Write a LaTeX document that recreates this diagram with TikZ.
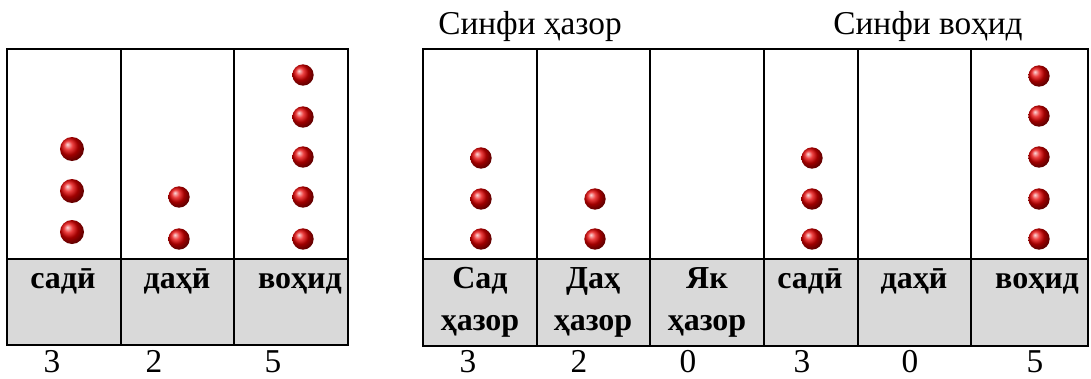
\documentclass[tikz,border=0pt]{standalone}
\usepackage{fontspec}
\setmainfont{Liberation Serif}
\usetikzlibrary{positioning}
\definecolor{cellgray}{HTML}{D9D9D9}

\begin{document}
\begin{tikzpicture}[
x=0.75pt, y=-0.75pt,
grid/.style={draw=black, line width=1.1pt},
lbl/.style={font=\fontsize{24}{31.5}\selectfont\bfseries, align=center, anchor=base, inner sep=0pt},
num/.style={font=\fontsize{25}{28}\selectfont, anchor=base, inner sep=0pt},
bead/.style={ball color=red!90!black}
]
\useasboundingbox (0,0) rectangle (1091,378);

% left table
\fill[cellgray] (7,259) rectangle (348,345);
\draw[grid] (7,49) rectangle (348,345);
\draw[grid] (7,259) -- (348,259);
\foreach \x in {121,234} \draw[grid] (\x,49) -- (\x,345);

\foreach \y in {149,191,232} \shade[bead] (72,\y) circle (9pt);
\foreach \y in {197,239} \shade[bead] (179,\y) circle (8pt);
\foreach \y in {75,117,157,197,239} \shade[bead] (303,\y) circle (8pt);

\node[lbl] (sadi) at (63,288) {садӣ};
\node[lbl] (dahi) at (177,288) {даҳӣ};
\node[lbl] (vohid) at (300,288) {воҳид};

\node[num] (n1) at (52,372) {3};
\node[num] (n2) at (154,372) {2};
\node[num] (n3) at (273,372) {5};

% right table
\fill[cellgray] (423,259) rectangle (1088,346);
\draw[grid] (423,49) rectangle (1088,346);
\draw[grid] (423,259) -- (1088,259);
\foreach \x in {537,650,764,858,971} \draw[grid] (\x,49) -- (\x,346);

\node[num] (thousands) at (530,35) {Синфи ҳазор};
\node[num] (units) at (928,35) {Синфи воҳид};

\foreach \y in {158,199,239} \shade[bead] (481,\y) circle (8pt);
\foreach \y in {199,239} \shade[bead] (595,\y) circle (8pt);
\foreach \y in {158,199,239} \shade[bead] (812,\y) circle (8pt);
\foreach \y in {76,116,157,199,239} \shade[bead] (1039,\y) circle (8pt);

% two-line labels sit on their last baseline
\node[lbl] (sadhazor) at (480,330) {Сад\\ҳазор};
\node[lbl] (dahhazor) at (593,330) {Даҳ\\ҳазор};
\node[lbl] (yakhazor) at (707,330) {Як\\ҳазор};
\node[lbl] (sadi2) at (810,288) {садӣ};
\node[lbl] (dahi2) at (914,288) {даҳӣ};
\node[lbl] (vohid2) at (1037,288) {воҳид};

\node[num] (m1) at (468,372) {3};
\node[num] (m2) at (579,372) {2};
\node[num] (m3) at (688,372) {0};
\node[num] (m4) at (802,372) {3};
\node[num] (m5) at (910,372) {0};
\node[num] (m6) at (1035,372) {5};

\end{tikzpicture}
\end{document}
